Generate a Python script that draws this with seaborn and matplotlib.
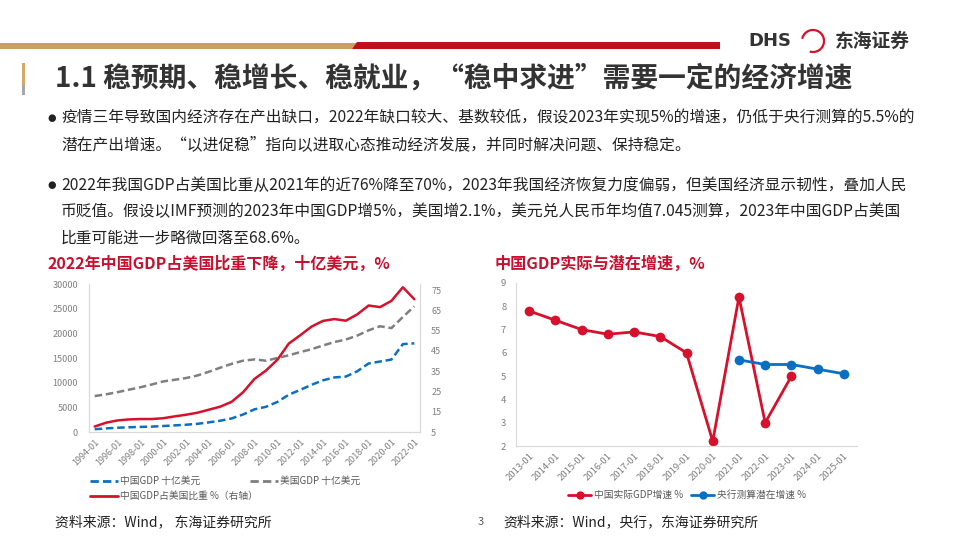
import matplotlib.pyplot as plt
import matplotlib.patches as mpatches
from matplotlib.lines import Line2D
import seaborn as sns
import numpy as np
import pandas as pd

# ---- data: left chart (十亿美元, %) ----
years = list(range(1994, 2023))
china_gdp = [564, 734, 863, 962, 1029, 1094, 1211, 1339, 1471, 1660, 1955, 2286, 2752, 3550,
             4594, 5102, 6087, 7552, 8532, 9570, 10476, 11062, 11233, 12310, 13895, 14280,
             14688, 17820, 17963]
us_gdp = [7287, 7640, 8073, 8578, 9063, 9631, 10251, 10582, 10936, 11458, 12214, 13037, 13815,
          14452, 14713, 14449, 14992, 15543, 16197, 16785, 17527, 18238, 18745, 19543, 20612,
          21433, 21061, 23315, 25464]
ratio = [7.7, 9.6, 10.7, 11.2, 11.4, 11.4, 11.8, 12.7, 13.5, 14.5, 16.0, 17.5, 19.9, 24.6, 31.2,
         35.3, 40.6, 48.6, 52.7, 57.0, 59.8, 60.7, 59.9, 63.0, 67.4, 66.6, 69.7, 76.4, 70.5]

# ---- data: right chart (%) ----
growth_years = list(range(2013, 2026))
real_years = list(range(2013, 2024))
real_growth = [7.8, 7.4, 7.0, 6.8, 6.9, 6.7, 6.0, 2.2, 8.4, 3.0, 5.0]
potential_years = [2021, 2022, 2023, 2024, 2025]
potential_growth = [5.7, 5.5, 5.5, 5.3, 5.1]

left_df = pd.DataFrame({"year": years, "china": china_gdp, "us": us_gdp, "ratio": ratio})
left_df["pos"] = left_df["year"] - years[0]
real_df = pd.DataFrame({"pos": [y - growth_years[0] for y in real_years], "v": real_growth})
pot_df = pd.DataFrame({"pos": [y - growth_years[0] for y in potential_years], "v": potential_growth})

RED = "#D7102B"
BLUE = "#0A6FC2"
GREY = "#7F7F7F"
TICK = "#7F7F7F"
SPINE = "#D9D9D9"
TITLE_RED = "#C8102E"

sns.set_theme(style="white")
plt.rcParams['font.family'] = ['Noto Sans CJK SC', 'DejaVu Sans']

fig = plt.figure(figsize=(9.6, 5.4), dpi=100)


def fx(x):
    return x / 960


def fy(y):
    return 1 - y / 540


# ---- slide header ----
fig.patches.append(mpatches.Polygon([[fx(0), fy(43)], [fx(357), fy(43)], [fx(352), fy(49)], [fx(0), fy(49)]],
                                    closed=True, transform=fig.transFigure, color="#C9A063", lw=0))
fig.patches.append(mpatches.Polygon([[fx(357), fy(42)], [fx(720), fy(42)], [fx(720), fy(49)], [fx(352), fy(49)]],
                                    closed=True, transform=fig.transFigure, color="#C0101E", lw=0))
fig.text(fx(748), fy(41), "DHS", fontsize=13, weight="bold", color="#333333", va="center",
         family=['DejaVu Sans'])
fig.patches.append(mpatches.Arc((fx(813), fy(41)), fx(22), 22 / 540, theta1=-100, theta2=160,
                                transform=fig.transFigure, color=RED, lw=1.6))
fig.text(fx(835), fy(41), "东海证券", fontsize=13.5, weight="bold", color="#333333", va="center")

fig.patches.append(mpatches.Rectangle((fx(22), fy(85)), fx(3), 22 / 540, transform=fig.transFigure,
                                      color="#D4A965", lw=0))
fig.patches.append(mpatches.Rectangle((fx(22), fy(95)), fx(3), 10 / 540, transform=fig.transFigure,
                                      color="#A6A6A6", lw=0))
fig.text(fx(55), fy(78), "1.1 稳预期、稳增长、稳就业，“稳中求进”需要一定的经济增速",
         fontsize=20, weight="bold", color="#333333", va="center")

# ---- bullet text ----
bullets = [
    (118, "疫情三年导致国内经济存在产出缺口，2022年缺口较大、基数较低，假设2023年实现5%的增速，仍低于央行测算的5.5%的", True),
    (145, "潜在产出增速。“以进促稳”指向以进取心态推动经济发展，并同时解决问题、保持稳定。", False),
    (185, "2022年我国GDP占美国比重从2021年的近76%降至70%，2023年我国经济恢复力度偏弱，但美国经济显示韧性，叠加人民", True),
    (212, "币贬值。假设以IMF预测的2023年中国GDP增5%，美国增2.1%，美元兑人民币年均值7.045测算，2023年中国GDP占美国", False),
    (238, "比重可能进一步略微回落至68.6%。", False),
]
for y, line, dot in bullets:
    if dot:
        fig.text(fx(47), fy(y), "●", fontsize=7, color="#222222", va="center", family=['DejaVu Sans'])
    fig.text(fx(61), fy(y), line, fontsize=11.3, color="#222222", va="center")

# ---- chart titles ----
fig.text(fx(48), fy(264), "2022年中国GDP占美国比重下降，十亿美元，%", fontsize=11.5, weight="bold",
         color=TITLE_RED, va="center")
fig.text(fx(495), fy(264), "中国GDP实际与潜在增速，%", fontsize=11.6, weight="bold",
         color=TITLE_RED, va="center")

# ---- left chart ----
ax = fig.add_axes([fx(89), fy(432), (420 - 89) / 960, (432 - 284) / 540])
ax2 = ax.twinx()
sns.lineplot(data=left_df, x="pos", y="us", ax=ax, color=GREY, lw=1.8, linestyle=(0, (3, 1.5)))
sns.lineplot(data=left_df, x="pos", y="china", ax=ax, color=BLUE, lw=1.8, linestyle=(0, (3, 1.5)))
sns.lineplot(data=left_df, x="pos", y="ratio", ax=ax2, color=RED, lw=1.8)

ax.set_xlim(-0.5, len(years) - 0.5)
ax.set_ylim(0, 30000)
ax2.set_ylim(5, 78)
ax.set_yticks(range(0, 30001, 5000))
ax2.set_yticks(range(5, 76, 10))
ax.set_xticks(range(0, len(years), 2))
ax.set_xticklabels([f"{y}-01" for y in years[::2]], rotation=45, ha="right", rotation_mode="anchor")
ax.set_xticks(np.arange(-0.5, len(years), 2), minor=True)
ax.tick_params(axis="x", which="major", length=0, labelsize=6.5, labelcolor=TICK, pad=4)
ax.tick_params(axis="x", which="minor", length=4, color=SPINE, width=0.8)
ax.tick_params(axis="y", length=0, labelsize=6.5, labelcolor=TICK, pad=8)
ax2.tick_params(axis="y", length=0, labelsize=6.5, labelcolor=TICK, pad=8)
for a in (ax, ax2):
    a.set_xlabel("")
    a.set_ylabel("")
    a.set_facecolor("none")
    a.spines["top"].set_visible(False)
    for side in ("left", "bottom", "right"):
        a.spines[side].set_color(SPINE)
        a.spines[side].set_linewidth(0.8)

legend_kw = dict(loc="upper left", frameon=False, fontsize=7, labelcolor="#595959",
                 handlelength=2.9, handletextpad=0.2, labelspacing=0.55, borderaxespad=0, borderpad=0)
fig.legend([Line2D([], [], color=BLUE, lw=2, linestyle=(0, (3, 1.5))), Line2D([], [], color=RED, lw=2)],
           ["中国GDP 十亿美元", "中国GDP占美国比重 %（右轴）"],
           bbox_to_anchor=(fx(90), fy(476)), **legend_kw)
fig.legend([Line2D([], [], color=GREY, lw=2, linestyle=(0, (3, 1.5)))], ["美国GDP 十亿美元"],
           bbox_to_anchor=(fx(250), fy(476)), **legend_kw)

# ---- right chart ----
bx = fig.add_axes([fx(516), fy(446), (857 - 516) / 960, (446 - 283) / 540])
sns.lineplot(data=real_df, x="pos", y="v", ax=bx, color=RED, lw=2, marker="o", markersize=7,
             markeredgewidth=0)
sns.lineplot(data=pot_df, x="pos", y="v", ax=bx, color=BLUE, lw=2, marker="o", markersize=7,
             markeredgewidth=0)
bx.set_xlim(-0.5, len(growth_years) - 0.5)
bx.set_ylim(2, 9)
bx.set_yticks(range(2, 10))
bx.set_xticks(range(len(growth_years)))
bx.set_xticklabels([f"{y}-01" for y in growth_years], rotation=45, ha="right", rotation_mode="anchor")
bx.set_xticks(np.arange(-0.5, len(growth_years), 1), minor=True)
bx.tick_params(axis="x", which="major", length=0, labelsize=6.8, labelcolor=TICK, pad=4)
bx.tick_params(axis="x", which="minor", length=4, color=SPINE, width=0.8)
bx.tick_params(axis="y", length=3, color=SPINE, width=0.8, labelsize=6.8, labelcolor=TICK, pad=4)
bx.set_xlabel("")
bx.set_ylabel("")
bx.set_facecolor("none")
bx.spines["top"].set_visible(False)
bx.spines["right"].set_visible(False)
for side in ("left", "bottom"):
    bx.spines[side].set_color(SPINE)
    bx.spines[side].set_linewidth(0.8)

right_handles = [
    Line2D([], [], color=RED, lw=2, marker="o", markersize=6, markeredgewidth=0),
    Line2D([], [], color=BLUE, lw=2, marker="o", markersize=6, markeredgewidth=0),
]
fig.legend(right_handles, ["中国实际GDP增速 %", "央行测算潜在增速 %"], ncol=2, loc="center left",
           bbox_to_anchor=(fx(568), fy(495)), frameon=False, fontsize=7, labelcolor="#595959",
           handlelength=2.4, handletextpad=0.3, columnspacing=0.8, borderaxespad=0, borderpad=0)

# ---- sources / page number ----
fig.text(fx(55), fy(522), "资料来源：Wind， 东海证券研究所", fontsize=10, color="#222222", va="center")
fig.text(fx(478), fy(522), "3", fontsize=8, color="#595959", va="center")
fig.text(fx(503), fy(522), "资料来源：Wind，央行，东海证券研究所", fontsize=10, color="#222222", va="center")

fig.savefig("out.png", dpi=100)
